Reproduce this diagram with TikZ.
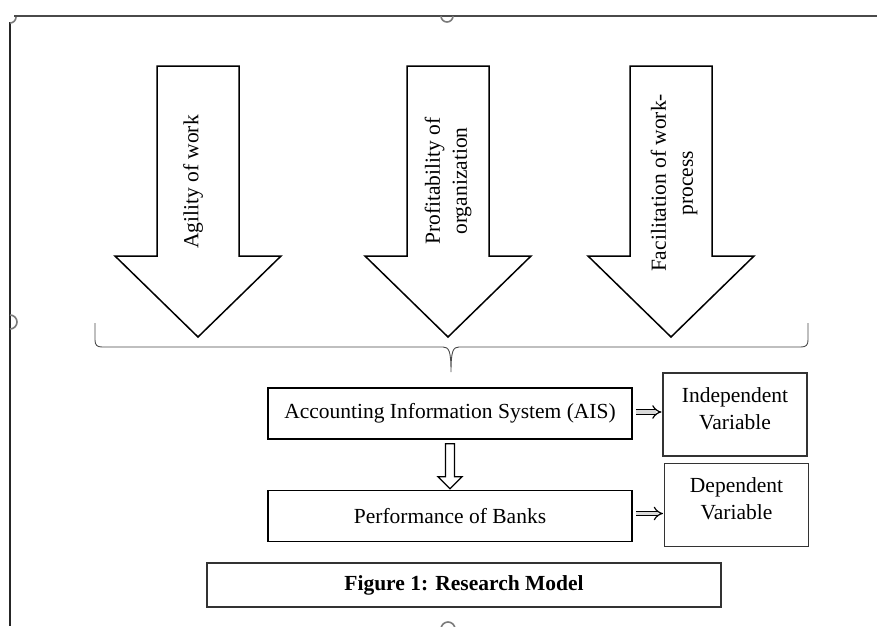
\documentclass[tikz,border=0pt]{standalone}
\usepackage{fontspec}
\setmainfont{Liberation Serif}
\definecolor{framegray}{HTML}{4A4A4A}
\definecolor{handlegray}{HTML}{7A7A7A}
\usetikzlibrary{arrows.meta, positioning, calc}

\begin{document}
\begin{tikzpicture}[
    x=1pt, y=-1pt,
    txt/.style={font=\fontsize{21.5}{27}\selectfont, align=center},
    mainbox/.style={rectangle, draw, line width=1.6pt,
                    minimum width=364pt, minimum height=51pt, txt},
    varbox/.style={rectangle, draw=black!80, line width=1.1pt,
                   minimum width=144pt, minimum height=83pt},
    bigarr/.style={draw, line width=1.5pt, fill=white},
    hollow/.style={draw, line width=1.3pt, fill=white},
    imp/.style={double=black!15, double distance=3.5pt, line width=1.2pt, -{Implies}},
    handle/.style={handlegray, line width=1.6pt}
  ]
  \useasboundingbox (0,0) rectangle (877,626);

  \draw[framegray, line width=1.6pt] (14,16) -- (877,16);
  \draw[black!85, line width=1.3pt] (10,22) -- (10,626);
  \draw[handle] (10,23) arc[start angle=90, end angle=0, radius=6];
  \draw[handle] (441,16) arc[start angle=180, end angle=0, radius=6];
  \draw[handle] (10,315) arc[start angle=-90, end angle=90, radius=7];
  \draw[handle] (441,629) arc[start angle=180, end angle=360, radius=7];

  \foreach \cx in {198, 448, 671}
    \draw[bigarr] (\cx-41,66) -- (\cx+41,66) -- (\cx+41,256) -- (\cx+83,256)
      -- (\cx,337) -- (\cx-83,256) -- (\cx-41,256) -- cycle;

  \node[txt, rotate=90] (agility) at (193,182) {Agility of work};
  \node[txt, rotate=90] (profit) at (448,181) {Profitability of\\organization};
  \node[txt, rotate=90] (facil) at (674,183) {Facilitation of work-\\process};

  \draw[framegray, line width=0.9pt] (95,323) -- (95,340)
    .. controls (95,345) and (97,347) .. (102,347) -- (443,347)
    .. controls (449,347) and (451,351) .. (451,372)
    .. controls (451,351) and (453,347) .. (459,347) -- (801,347)
    .. controls (806,347) and (808,345) .. (808,340) -- (808,323);

  \node[mainbox] (ais) at (450,413.5) {Accounting Information System (AIS)};
  \node[mainbox] (perf) at (450,516) {Performance of Banks};
  \node[varbox] (indep) at (735,414.5) {};
  \node[varbox] (dep) at (736.5,505) {};
  \node[txt, yshift=6pt] (indeplbl) at (indep.center) {Independent\\Variable};
  \node[txt, yshift=6pt] (deplbl) at (dep.center) {Dependent\\Variable};
  \node[rectangle, draw=black!80, line width=1.1pt, minimum width=514pt,
        minimum height=44pt, font=\fontsize{21.5}{27}\selectfont\bfseries]
        (caption) at (464,585) {Figure 1: Research Model};

  \draw[imp] ([xshift=3pt,yshift=1.5pt]ais.east) -- ([xshift=-1pt,yshift=1.5pt]ais.east -| indep.west);
  \draw[imp] ([xshift=3pt,yshift=2.5pt]perf.east) -- ([xshift=-1pt,yshift=2.5pt]perf.east -| dep.west);
  \draw[hollow] ($(ais.south)+(-4.5,4)$) -- ($(perf.north)+(-4.5,-13)$)
    -- ($(perf.north)+(-12,-13)$) -- ($(perf.north)+(0,-1)$)
    -- ($(perf.north)+(12,-13)$) -- ($(perf.north)+(4.5,-13)$)
    -- ($(ais.south)+(4.5,4)$) -- cycle;
\end{tikzpicture}
\end{document}
